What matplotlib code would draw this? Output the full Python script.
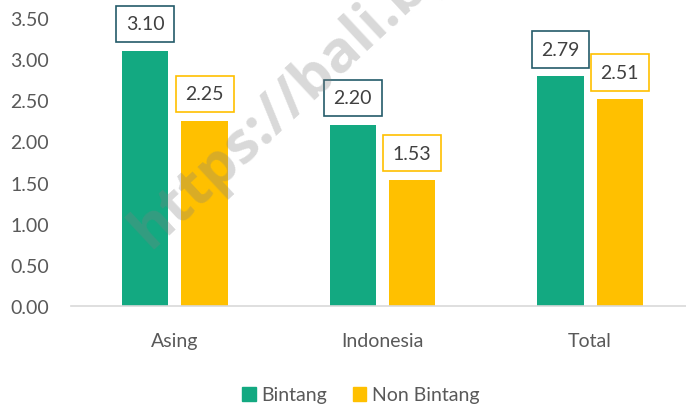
import matplotlib.pyplot as plt
import numpy as np
from matplotlib.patches import Patch

plt.rcParams['font.family'] = ['Lato', 'DejaVu Sans']

categories = ["Asing", "Indonesia", "Total"]
bintang = [3.10, 2.20, 2.79]
non_bintang = [2.25, 1.53, 2.51]
series_names = ["Bintang", "Non Bintang"]
yticks = [0.0, 0.5, 1.0, 1.5, 2.0, 2.5, 3.0, 3.5]

green = "#13A981"
yellow = "#FFC000"
green_edge = "#245B69"

W, H = 686, 406
fig = plt.figure(figsize=(W / 100, H / 100), dpi=100)
# plot area in pixels: left 71, top 19, bottom 307, right edge of figure
ax = fig.add_axes([71 / W, 1 - 307 / H, (686 - 71) / W, (307 - 19) / H])

x = np.arange(len(categories))
width = 0.224
off = 0.143
b1 = ax.bar(x - off, bintang, width, color=green, zorder=2)
b2 = ax.bar(x + off, non_bintang, width, color=yellow, zorder=2)

ax.set_xlim(-0.5, 2.5 - 8 / 207.5)
ax.set_ylim(0, 3.5)
ax.set_yticks(yticks)
ax.set_yticklabels([f"{v:.2f}" for v in yticks])
ax.set_xticks(x)
ax.set_xticklabels(categories)
ax.tick_params(axis='both', length=0, labelsize=14, colors="#595959")
ax.tick_params(axis='y', pad=16)
ax.tick_params(axis='x', pad=19)

for s in ["top", "right", "left"]:
    ax.spines[s].set_visible(False)
ax.spines["bottom"].set_color("#D9D9D9")
ax.spines["bottom"].set_linewidth(1.2)

# boxed data labels
for bars, vals, ec in [(b1, bintang, green_edge), (b2, non_bintang, yellow)]:
    for rect, v in zip(bars, vals):
        ax.annotate(f"{v:.2f}", xy=(rect.get_x() + rect.get_width() / 2, v),
                    xytext=(0, 27), textcoords='offset pixels',
                    ha='center', va='center', fontsize=14, color="#404040",
                    bbox=dict(boxstyle="square,pad=0.5", fc="white", ec=ec, lw=1.2),
                    zorder=3, annotation_clip=False)

handles = [Patch(color=green), Patch(color=yellow)]
fig.legend(handles, series_names, loc='center', bbox_to_anchor=(361 / W, 1 - 396 / H),
           ncol=2, frameon=False, fontsize=14, labelcolor="#595959",
           handlelength=0.7, handleheight=0.7, handletextpad=0.3, columnspacing=1.3)

# watermark (runs off the top edge, as in the source image)
fig.text(150 / W, 1 - 250 / H, "https://bali.bps.go.id", rotation=43,
         rotation_mode='anchor', ha='left', va='baseline', fontsize=42,
         family=['Open Sans', 'DejaVu Sans'], fontweight='bold',
         color='#808080', alpha=0.3, zorder=10)

fig.savefig("out.png", dpi=100)
